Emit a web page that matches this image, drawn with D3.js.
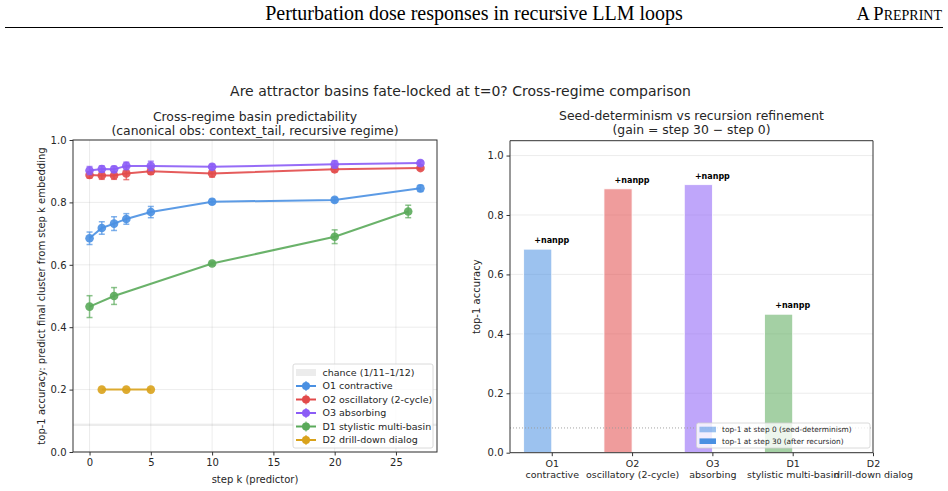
<!DOCTYPE html>
<html>
<head>
<meta charset="utf-8">
<script src="https://cdn.jsdelivr.net/npm/d3@7"></script>
<style>
  body { margin: 0; background: #fff; }
  svg { display: block; font-family: "DejaVu Sans", sans-serif; }
</style>
</head>
<body>
<div id="chart"></div>
<script>
// ---- data ----
var regimes = ["O1 contractive", "O2 oscillatory (2-cycle)", "O3 absorbing", "D1 stylistic multi-basin", "D2 drill-down dialog"];
var colors = ["#4a90e2", "#e24a4a", "#8b5cf6", "#5aaa5a", "#d9a21b"];

var stepsO = [0, 1, 2, 3, 5, 10, 20, 27];
var o1Mean = [0.685, 0.718, 0.732, 0.747, 0.769, 0.802, 0.808, 0.845];
var o1Err  = [0.020, 0.020, 0.022, 0.017, 0.018, 0.008, 0.007, 0.010];
var o2Mean = [0.888, 0.886, 0.886, 0.893, 0.900, 0.893, 0.906, 0.910];
var o2Err  = [0.010, 0.012, 0.012, 0.020, 0.010, 0.012, 0.008, 0.005];
var o3Mean = [0.902, 0.907, 0.906, 0.917, 0.917, 0.914, 0.922, 0.926];
var o3Err  = [0.013, 0.010, 0.010, 0.012, 0.015, 0.008, 0.012, 0.007];
var stepsD1 = [0, 2, 10, 20, 26];
var d1Mean = [0.466, 0.500, 0.604, 0.690, 0.771];
var d1Err  = [0.035, 0.027, 0.005, 0.022, 0.020];
var stepsD2 = [1, 3, 5];
var d2Mean = [0.200, 0.200, 0.200];
var d2Err  = [0, 0, 0];

var chanceLow = 1 / 12, chanceHigh = 1 / 11;

var barCats = [["O1", "contractive"], ["O2", "oscillatory (2-cycle)"], ["O3", "absorbing"], ["D1", "stylistic multi-basin"], ["D2", "drill-down dialog"]];
var step0 = [0.685, 0.888, 0.902, 0.466, NaN];
var step30 = [NaN, NaN, NaN, NaN, NaN];
var gainLabels = ["+nanpp", "+nanpp", "+nanpp", "+nanpp", null];

var xTicksL = [0, 5, 10, 15, 20, 25];
var yTicksL = [0, 0.2, 0.4, 0.6, 0.8, 1.0];
var yTicksR = [0, 0.2, 0.4, 0.6, 0.8, 1.0];

var series = [
  {x: stepsO, m: o1Mean, e: o1Err},
  {x: stepsO, m: o2Mean, e: o2Err},
  {x: stepsO, m: o3Mean, e: o3Err},
  {x: stepsD1, m: d1Mean, e: d1Err},
  {x: stepsD2, m: d2Mean, e: d2Err}
];

var W = 948, H = 491;
var txt = "#262626", spine = "#333";

var svg = d3.select("#chart").append("svg").attr("width", W).attr("height", H);

// page header
svg.append("text").attr("x", 474).attr("y", 20).attr("text-anchor", "middle")
  .style("font-family", "'Liberation Serif', 'DejaVu Serif', serif").style("font-size", "20px")
  .text("Perturbation dose responses in recursive LLM loops");
var pre = svg.append("text").attr("x", 942).attr("y", 20).attr("text-anchor", "end")
  .style("font-family", "'Liberation Serif', 'DejaVu Serif', serif").style("font-size", "18.5px");
pre.append("tspan").text("A P");
pre.append("tspan").style("font-size", "14px").text("REPRINT");
svg.append("line").attr("x1", 5).attr("x2", 943).attr("y1", 27.5).attr("y2", 27.5)
  .attr("stroke", "#000").attr("stroke-width", 1);

svg.append("text").attr("x", 460.5).attr("y", 95.5).attr("text-anchor", "middle")
  .style("font-size", "14px").attr("fill", txt)
  .text("Are attractor basins fate-locked at t=0? Cross-regime comparison");

// ---------------- left panel ----------------
var L = {left: 73, right: 437, top: 140, bottom: 452};
var x = d3.scaleLinear().domain([-1.35, 28.35]).range([L.left, L.right]);
var y = d3.scaleLinear().domain([0, 1]).range([L.bottom, L.top]);
var g1 = svg.append("g");

// grid
g1.selectAll(".gx").data(xTicksL).enter().append("line")
  .attr("x1", d => x(d)).attr("x2", d => x(d)).attr("y1", L.top).attr("y2", L.bottom)
  .attr("stroke", "#b0b0b0").attr("stroke-opacity", 0.3).attr("stroke-width", 0.8);
g1.selectAll(".gy").data(yTicksL).enter().append("line")
  .attr("x1", L.left).attr("x2", L.right).attr("y1", d => y(d)).attr("y2", d => y(d))
  .attr("stroke", "#b0b0b0").attr("stroke-opacity", 0.3).attr("stroke-width", 0.8);

// chance band
g1.append("rect").attr("x", L.left).attr("width", L.right - L.left)
  .attr("y", y(chanceHigh)).attr("height", y(chanceLow) - y(chanceHigh))
  .attr("fill", "#808080").attr("fill-opacity", 0.15);

// series
var line = d3.line().x(d => x(d[0])).y(d => y(d[1]));
series.forEach(function(s, i) {
  var pts = s.x.map((v, j) => [v, s.m[j], s.e[j]]);
  var gs = g1.append("g");
  gs.selectAll(".eb").data(pts.filter(p => p[2] > 0)).enter().append("g").each(function(p) {
    var e = d3.select(this);
    e.append("line").attr("x1", x(p[0])).attr("x2", x(p[0])).attr("y1", y(p[1] - p[2])).attr("y2", y(p[1] + p[2]));
    e.append("line").attr("x1", x(p[0]) - 3).attr("x2", x(p[0]) + 3).attr("y1", y(p[1] - p[2])).attr("y2", y(p[1] - p[2]));
    e.append("line").attr("x1", x(p[0]) - 3).attr("x2", x(p[0]) + 3).attr("y1", y(p[1] + p[2])).attr("y2", y(p[1] + p[2]));
  }).attr("stroke", colors[i]).attr("stroke-width", 1.5).attr("stroke-opacity", 0.7);
  gs.append("path").datum(pts).attr("d", line).attr("fill", "none")
    .attr("stroke", colors[i]).attr("stroke-width", 2).attr("stroke-opacity", 0.9);
  gs.selectAll("circle").data(pts).enter().append("circle")
    .attr("cx", d => x(d[0])).attr("cy", d => y(d[1])).attr("r", 4.3)
    .attr("fill", colors[i]).attr("fill-opacity", 0.9);
});

// spines + axes
g1.append("rect").attr("x", L.left).attr("y", L.top).attr("width", L.right - L.left).attr("height", L.bottom - L.top)
  .attr("fill", "none").attr("stroke", spine).attr("stroke-width", 1);
var ax1 = g1.append("g").attr("transform", "translate(0," + L.bottom + ")")
  .call(d3.axisBottom(x).tickValues(xTicksL).tickSize(3.5).tickPadding(3).tickFormat(d3.format("d")));
var ay1 = g1.append("g").attr("transform", "translate(" + L.left + ",0)")
  .call(d3.axisLeft(y).tickValues(yTicksL).tickSize(3.5).tickPadding(3).tickFormat(d3.format(".1f")));
[ax1, ay1].forEach(a => {
  a.select(".domain").remove();
  a.selectAll("line").attr("stroke", spine);
  a.selectAll("text").attr("fill", txt).style("font-size", "10px").style("font-family", "'DejaVu Sans', sans-serif");
});

g1.append("text").attr("x", (L.left + L.right) / 2).attr("y", 483).attr("text-anchor", "middle")
  .style("font-size", "10px").attr("fill", txt).text("step k (predictor)");
g1.append("text").attr("transform", "translate(45," + ((L.top + L.bottom) / 2) + ") rotate(-90)")
  .attr("text-anchor", "middle").style("font-size", "10px").attr("fill", txt)
  .text("top-1 accuracy: predict final cluster from step k embedding");
g1.append("text").attr("x", (L.left + L.right) / 2).attr("y", 121).attr("text-anchor", "middle")
  .style("font-size", "12.4px").attr("fill", txt).text("Cross-regime basin predictability");
g1.append("text").attr("x", (L.left + L.right) / 2).attr("y", 134.5).attr("text-anchor", "middle")
  .style("font-size", "12.4px").attr("fill", txt).text("(canonical obs: context_tail, recursive regime)");

// legend left
var lg = g1.append("g").attr("transform", "translate(293,364)");
lg.append("rect").attr("width", 140).attr("height", 84).attr("rx", 2)
  .attr("fill", "#fff").attr("fill-opacity", 0.8).attr("stroke", "#d0d0d0").attr("stroke-width", 0.8);
var legItems = ["chance (1/11\u20131/12)"].concat(regimes);
legItems.forEach(function(t, i) {
  var ly = 8.5 + i * 13.5;
  if (i === 0) {
    lg.append("rect").attr("x", 3).attr("y", ly - 3.5).attr("width", 20).attr("height", 7)
      .attr("fill", "#808080").attr("fill-opacity", 0.15);
  } else {
    var c = colors[i - 1];
    lg.append("line").attr("x1", 3).attr("x2", 23).attr("y1", ly).attr("y2", ly).attr("stroke", c).attr("stroke-width", 2);
    lg.append("line").attr("x1", 13).attr("x2", 13).attr("y1", ly - 5).attr("y2", ly + 5).attr("stroke", c).attr("stroke-width", 1.5).attr("stroke-opacity", 0.7);
    lg.append("circle").attr("cx", 13).attr("cy", ly).attr("r", 4).attr("fill", c);
  }
  lg.append("text").attr("x", 29.5).attr("y", ly + 3.4).style("font-size", "9.5px").attr("fill", txt).text(t);
});

// ---------------- right panel ----------------
var R = {left: 510, right: 873, top: 140.7, bottom: 452.7};
var xb = d3.scaleLinear().domain([-0.52, 4.0]).range([R.left, R.right]);
var yb = d3.scaleLinear().domain([0, 1.05]).range([R.bottom, R.top]);
var bw = 0.35;
var g2 = svg.append("g");

g2.selectAll(".gy").data(yTicksR).enter().append("line")
  .attr("x1", R.left).attr("x2", R.right).attr("y1", d => yb(d)).attr("y2", d => yb(d))
  .attr("stroke", "#b0b0b0").attr("stroke-opacity", 0.3).attr("stroke-width", 0.8);

var barData = barCats.map((c, i) => ({i: i, v0: step0[i], v30: step30[i], lab: gainLabels[i]}));
g2.selectAll(".b0").data(barData.filter(d => !isNaN(d.v0))).enter().append("rect")
  .attr("x", d => xb(d.i - bw)).attr("width", d => xb(d.i) - xb(d.i - bw))
  .attr("y", d => yb(d.v0)).attr("height", d => yb(0) - yb(d.v0))
  .attr("fill", d => colors[d.i]).attr("fill-opacity", 0.55)
  .attr("stroke", "#fff").attr("stroke-width", 0.8);
g2.selectAll(".b30").data(barData.filter(d => !isNaN(d.v30))).enter().append("rect")
  .attr("x", d => xb(d.i)).attr("width", d => xb(d.i + bw) - xb(d.i))
  .attr("y", d => yb(d.v30)).attr("height", d => yb(0) - yb(d.v30))
  .attr("fill", d => colors[d.i]);
g2.selectAll(".lab").data(barData.filter(d => d.lab)).enter().append("text")
  .attr("x", d => xb(d.i)).attr("y", d => yb(d.v0 + 0.02)).attr("text-anchor", "middle")
  .style("font-size", "8px").style("font-weight", "bold").attr("fill", "#000").text(d => d.lab);

g2.append("line").attr("x1", R.left).attr("x2", R.right).attr("y1", yb(chanceLow)).attr("y2", yb(chanceLow))
  .attr("stroke", "#999").attr("stroke-width", 0.9).attr("stroke-dasharray", "1,2");

// right legend
var lg2 = g2.append("g").attr("transform", "translate(696.5,423)");
lg2.append("rect").attr("width", 173.5).attr("height", 25).attr("rx", 2)
  .attr("fill", "#fff").attr("fill-opacity", 0.8).attr("stroke", "#d0d0d0").attr("stroke-width", 0.8);
[["top-1 at step 0 (seed-determinism)", 0.55], ["top-1 at step 30 (after recursion)", 1]].forEach(function(t, i) {
  var ly = 6.5 + i * 11.7;
  lg2.append("rect").attr("x", 3).attr("y", ly - 2.8).attr("width", 16.5).attr("height", 5.6)
    .attr("fill", colors[0]).attr("fill-opacity", t[1]);
  lg2.append("text").attr("x", 25.5).attr("y", ly + 2.7).style("font-size", "7.4px").attr("fill", txt).text(t[0]);
});

g2.append("line").attr("x1", R.left).attr("x2", R.right).attr("y1", R.top).attr("y2", R.top).attr("stroke", spine);
g2.append("line").attr("x1", R.left).attr("x2", R.left).attr("y1", R.top).attr("y2", R.bottom).attr("stroke", spine);
g2.append("line").attr("x1", R.right).attr("x2", R.right).attr("y1", R.top).attr("y2", R.bottom).attr("stroke", spine);
g2.append("line").attr("x1", R.left).attr("x2", R.right).attr("y1", R.bottom).attr("y2", R.bottom).attr("stroke", spine);

var ax2 = g2.append("g").attr("transform", "translate(0," + R.bottom + ")")
  .call(d3.axisBottom(xb).tickValues(d3.range(barCats.length)).tickSize(3.5).tickPadding(3).tickFormat(""));
ax2.selectAll(".tick").append("text").attr("fill", txt).attr("text-anchor", "middle")
  .style("font-size", "9.5px").each(function(d) {
    var t = d3.select(this);
    t.append("tspan").attr("x", 0).attr("y", 14).text(barCats[d][0]);
    t.append("tspan").attr("x", 0).attr("y", 25).text(barCats[d][1]);
  });
var ay2 = g2.append("g").attr("transform", "translate(" + R.left + ",0)")
  .call(d3.axisLeft(yb).tickValues(yTicksR).tickSize(3.5).tickPadding(3).tickFormat(d3.format(".1f")));
[ax2, ay2].forEach(a => {
  a.select(".domain").remove();
  a.selectAll("line").attr("stroke", spine);
  a.selectAll("text").attr("fill", txt).style("font-family", "'DejaVu Sans', sans-serif");
});
ay2.selectAll("text").style("font-size", "10px");

g2.append("text").attr("transform", "translate(480," + ((R.top + R.bottom) / 2) + ") rotate(-90)")
  .attr("text-anchor", "middle").style("font-size", "10px").attr("fill", txt).text("top-1 accuracy");
g2.append("text").attr("x", (R.left + R.right) / 2).attr("y", 120).attr("text-anchor", "middle")
  .style("font-size", "12.4px").attr("fill", txt).text("Seed-determinism vs recursion refinement");
g2.append("text").attr("x", (R.left + R.right) / 2).attr("y", 133.5).attr("text-anchor", "middle")
  .style("font-size", "12.4px").attr("fill", txt).text("(gain = step 30 \u2212 step 0)");
</script>
</body>
</html>
